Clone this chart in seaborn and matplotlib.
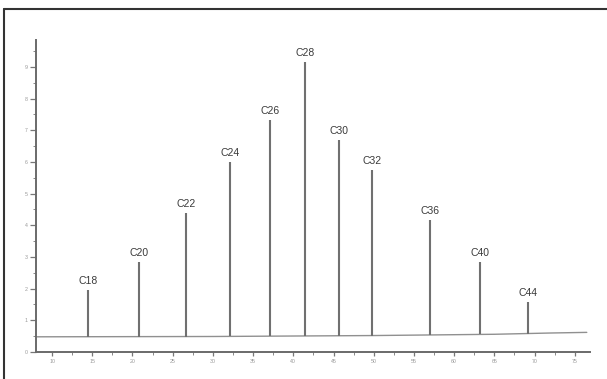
import matplotlib
matplotlib.use("Agg")
import matplotlib.pyplot as plt
from matplotlib.lines import Line2D
from matplotlib.ticker import MultipleLocator
import numpy as np
import pandas as pd
import seaborn as sns

# ── data ──
peak_labels = ["C18", "C20", "C22", "C24", "C26", "C28", "C30", "C32", "C36", "C40", "C44"]
peak_time = [14.5, 20.8, 26.7, 32.1, 37.05, 41.5, 45.7, 49.8, 57.0, 63.2, 69.2]
peak_height = [1.96, 2.84, 4.38, 5.99, 7.32, 9.15, 6.69, 5.74, 4.16, 2.84, 1.58]

baseline_time = [8.0, 30.0, 50.0, 65.0, 72.0, 76.5]
baseline_level = [0.48, 0.49, 0.52, 0.56, 0.60, 0.62]

x_ticks = [10, 15, 20, 25, 30, 35, 40, 45, 50, 55, 60, 65, 70, 75]
y_ticks = [0, 1, 2, 3, 4, 5, 6, 7, 8, 9]

sns.set_style("white")
plt.rcParams["font.family"] = ["Liberation Sans", "DejaVu Sans"]

fig = plt.figure(figsize=(6.07, 3.79), dpi=100)
ax = fig.add_axes([0.0593, 0.0712, 0.9127, 0.8233])

base = pd.DataFrame({"t": baseline_time, "v": baseline_level})
sns.lineplot(data=base, x="t", y="v", ax=ax, color="#909090", linewidth=1.0)

peak_base = np.interp(peak_time, baseline_time, baseline_level)
ax.vlines(peak_time, peak_base, peak_height, color="#707070", linewidth=1.5)

for lab, t, h in zip(peak_labels, peak_time, peak_height):
    ax.text(t, h + 0.12, lab, ha="center", va="bottom", fontsize=7.5, color="#3a3a3a")

ax.set_xlim(8.0, 76.9)
ax.set_ylim(0, 9.85)
ax.set_xticks(x_ticks)
ax.set_xticklabels([str(v) for v in x_ticks])
ax.set_yticks(y_ticks)
ax.set_yticklabels([str(v) for v in y_ticks])
ax.xaxis.set_minor_locator(MultipleLocator(2.5))
ax.yaxis.set_minor_locator(MultipleLocator(0.5))
ax.tick_params(axis="both", which="both", bottom=True, left=True)
ax.tick_params(axis="both", which="major", direction="out", length=4, width=0.9,
               color="#777777", labelsize=3.8, labelcolor="#999999", pad=2)
ax.tick_params(axis="both", which="minor", direction="out", length=2, width=0.7,
               color="#888888")
ax.tick_params(axis="x", which="major", length=3)
ax.set_xlabel("")
ax.set_ylabel("")

for side in ["top", "right"]:
    ax.spines[side].set_visible(False)
for side in ["left", "bottom"]:
    ax.spines[side].set_color("#6a6a6a")
    ax.spines[side].set_linewidth(1.4)

# outer frame of the scanned figure (left and top edges)
fig.add_artist(Line2D([4 / 607, 4 / 607], [0, 1 - 9 / 379], color="#333333", linewidth=1.5))
fig.add_artist(Line2D([4 / 607, 1], [1 - 9 / 379, 1 - 9 / 379], color="#333333", linewidth=1.5))

fig.savefig("out.png", dpi=100)
